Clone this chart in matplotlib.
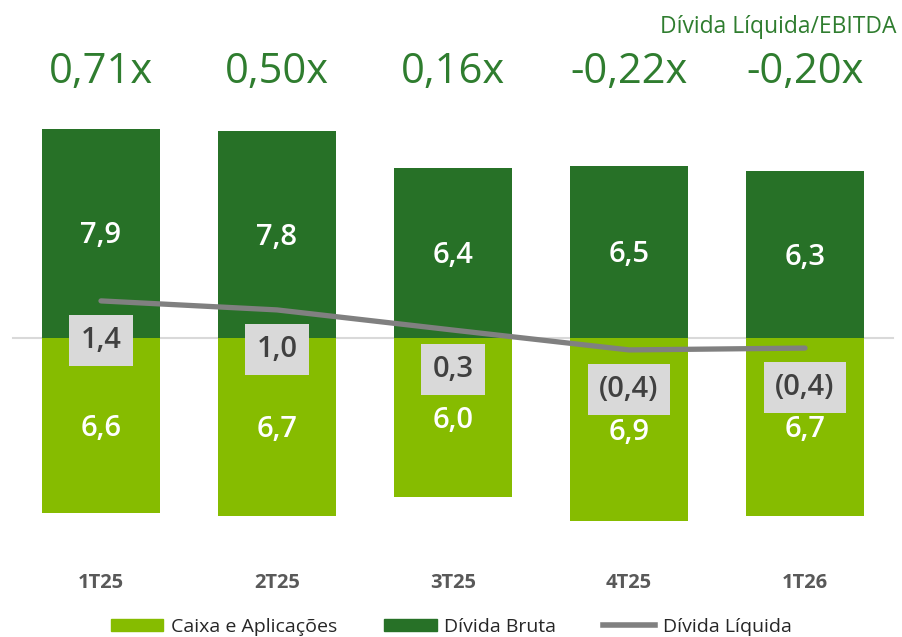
import matplotlib
matplotlib.use("Agg")
import matplotlib.pyplot as plt
from matplotlib.patches import Patch
from matplotlib.lines import Line2D

categories = ["1T25", "2T25", "3T25", "4T25", "1T26"]
divida_bruta = [7.9, 7.8, 6.4, 6.5, 6.3]
caixa = [6.6, 6.7, 6.0, 6.9, 6.7]
divida_liquida = [1.4, 1.06, 0.3, -0.45, -0.38]
divida_liquida_labels = ["1,4", "1,0", "0,3", "(0,4)", "(0,4)"]
alavancagem = ["0,71x", "0,50x", "0,16x", "-0,22x", "-0,20x"]

DARK = "#277127"
LIGHT = "#86BC00"
GREEN_TXT = "#2F7D2F"
GRAY_LINE = "#808080"

plt.rcParams["font.family"] = ["Open Sans", "DejaVu Sans"]

fig = plt.figure(figsize=(9.03, 6.37), dpi=100)
ax = fig.add_axes([0, 0, 1, 1])
x = list(range(len(categories)))
px_x = 176.0
px_y = 26.5
ax.set_xlim(-101 / px_x, (903 - 101) / px_x)
ax.set_ylim(-(637 - 338) / px_y, 338 / px_y)
ax.axis("off")

ax.plot([-88 / px_x, (893 - 101) / px_x], [0, 0], color="#D9D9D9", lw=1.5, zorder=1)

w = 0.665
ax.bar(x, divida_bruta, width=w, color=DARK, zorder=2)
ax.bar(x, [-c for c in caixa], width=w, color=LIGHT, zorder=2)

ax.plot(x, divida_liquida, color=GRAY_LINE, lw=3.8, solid_capstyle="round",
        solid_joinstyle="round", zorder=3)

for i in x:
    ax.text(i, divida_bruta[i] / 2 - 0.1, f"{divida_bruta[i]:.1f}".replace(".", ","),
            ha="center", va="center", color="white", fontsize=21, fontweight="semibold", zorder=4)
    ax.text(i, -caixa[i] / 2 - 0.1, f"{caixa[i]:.1f}".replace(".", ","),
            ha="center", va="center", color="white", fontsize=21, fontweight="semibold", zorder=4)
    ax.text(i, divida_liquida[i] - 1.5, divida_liquida_labels[i],
            ha="center", va="center", color="#404040", fontsize=21, fontweight="semibold", zorder=5,
            bbox=dict(boxstyle="square,pad=0.38", fc="#D9D9D9", ec="none"))
    ax.text(i, (338 - 72) / px_y, alavancagem[i], ha="center", va="center",
            color=GREEN_TXT, fontsize=30, zorder=4)
    ax.text(i, -(583 - 338) / px_y, categories[i], ha="center", va="center",
            color="#595959", fontsize=14.5, fontweight="bold", zorder=4)

ax.text((897 - 101) / px_x, (338 - 27) / px_y, "Dívida Líquida/EBITDA", ha="right",
        va="center", color=GREEN_TXT, fontsize=16.5)

handles = [Patch(color=LIGHT), Patch(color=DARK), Line2D([], [], color=GRAY_LINE, lw=4)]
labels = ["Caixa e Aplicações", "Dívida Bruta", "Dívida Líquida"]
fig.legend(handles, labels, loc="center", bbox_to_anchor=(0.5, 1 - 627 / 637), ncol=3,
           frameon=False, fontsize=14, handlelength=2.7, handleheight=0.6,
           handletextpad=0.4, columnspacing=2.4, labelcolor="#262626",
           borderpad=0.1)

fig.savefig("out.png", dpi=100)
